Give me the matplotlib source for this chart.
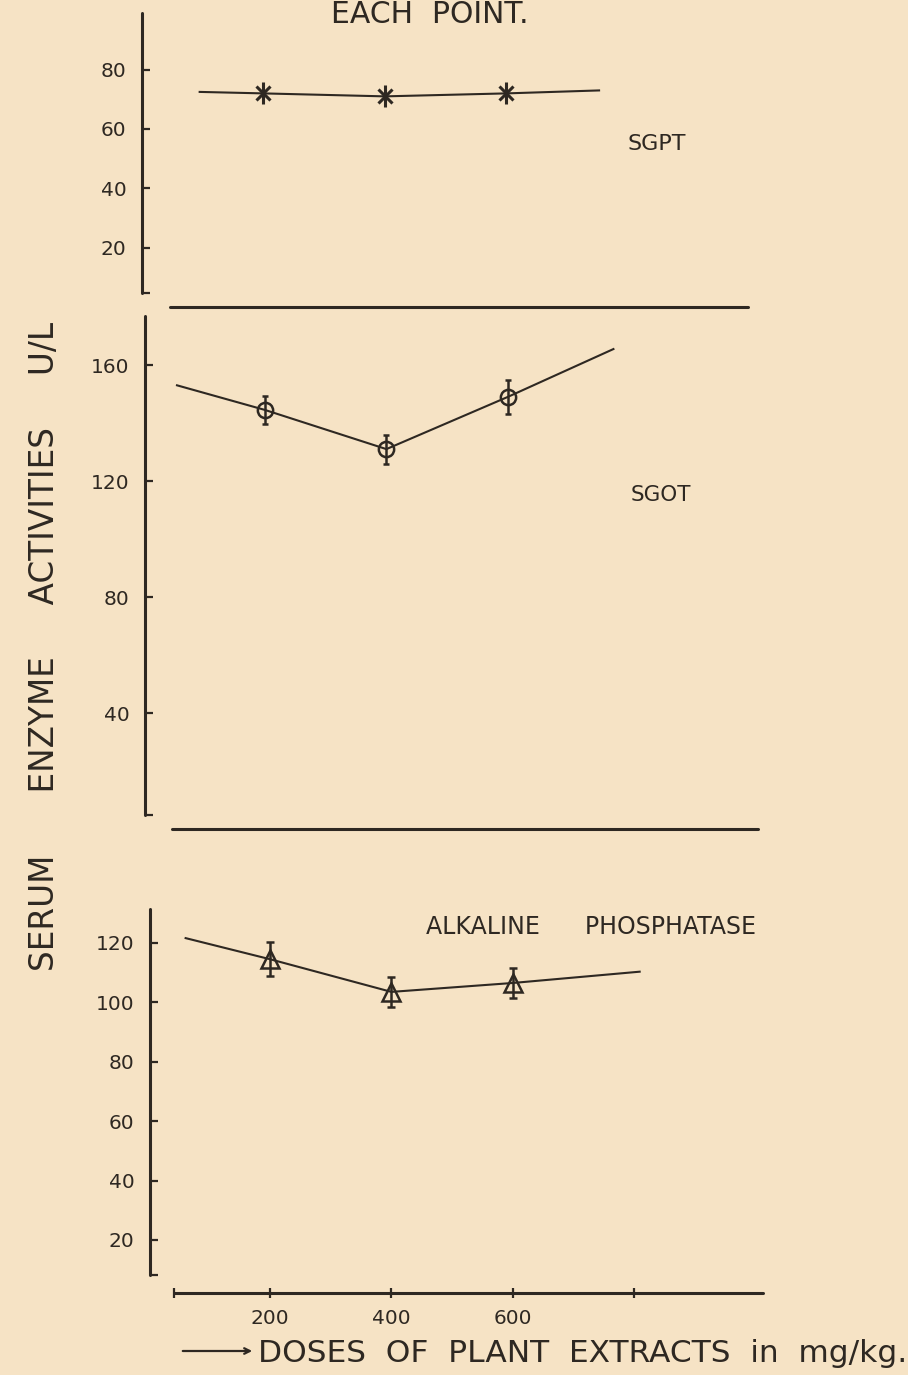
import matplotlib.pyplot as plt

# colours of the scanned sheet
BG = '#f6e3c5'
INK = '#2e2822'

W, H = 908, 1375       # figure size in pixels
XS = 0.607             # pixels per mg/kg on the dose axis
RIGHT = 800            # right edge of every panel, pixels

# doses of the plant extract (mg/kg)
doses = [200, 400, 600]

# SGPT (U/L)
sgpt_mean = [72, 71, 72]
sgpt_err = [3.7, 3.7, 3.7]
sgpt_line_x = [95, 200, 400, 600, 753]
sgpt_line_y = [72.5, 72, 71, 72, 73]

# SGOT (U/L)
sgot_mean = [144.5, 131, 149]
sgot_err = [4.7, 5, 6]
sgot_line_x = [55, 200, 400, 600, 774]
sgot_line_y = [153, 144.5, 131, 149, 165.5]

# alkaline phosphatase (U/L)
alp_mean = [114.5, 103.5, 106.5]
alp_err = [5.7, 5, 5]
alp_line_x = [61, 200, 400, 600, 809]
alp_line_y = [121.6, 114.5, 103.5, 106.5, 110.3]

sgpt_ticks = [20, 40, 60, 80]
sgot_ticks = [40, 80, 120, 160]
alp_ticks = [20, 40, 60, 80, 100, 120]
dose_ticks = [42, 200, 400, 600, 800]
dose_labels = ['', '200', '400', '600', '']

plt.rcParams['font.family'] = ['DejaVu Sans']

fig = plt.figure(figsize=(W / 100, H / 100), dpi=100, facecolor=BG)


def make_panel(left_px, top_px, bottom_px, x0, ylim, ybottom, xbounds, yticks):
    """one hand-drawn panel: free-standing left axis plus a detached base line"""
    ax = fig.add_axes([left_px / W, 1 - bottom_px / H,
                       (RIGHT - left_px) / W, (bottom_px - top_px) / H])
    ax.set_xlim(x0, x0 + (RIGHT - left_px) / XS)
    ax.set_ylim(*ylim)
    ax.patch.set_visible(False)
    ax.spines['top'].set_visible(False)
    ax.spines['right'].set_visible(False)
    for s in ['left', 'bottom']:
        ax.spines[s].set_color(INK)
        ax.spines[s].set_linewidth(2.2)
        ax.spines[s].set_capstyle('round')
    ax.spines['left'].set_bounds(ybottom, ylim[1])
    ax.spines['bottom'].set_bounds(*xbounds)
    # bottom of the left axis has a small hook, drawn as an unlabeled tick
    ax.set_yticks([ybottom] + yticks)
    ax.set_yticklabels([''] + [str(t) for t in yticks])
    ax.tick_params(axis='y', direction='in', length=6, width=1.6,
                   color=INK, labelcolor=INK, labelsize=14.5, pad=11)
    ax.set_xticks([])
    return ax


ax1 = make_panel(142, 13, 307, 0, (0, 99.1), 4.8, (46, 998), sgpt_ticks)
ax2 = make_panel(145, 316, 829, 2.3, (0, 176.9), 4.8, (47, 1012), sgot_ticks)
ax3 = make_panel(150, 909, 1293, 2.3, (2.15, 131.4), 8.2, (42, 1012), alp_ticks)

ax3.set_xticks(dose_ticks)
ax3.set_xticklabels(dose_labels)
ax3.tick_params(axis='x', direction='inout', length=7, width=1.6,
                color=INK, labelcolor=INK, labelsize=14.5, pad=8)

# SGPT
ax1.plot(sgpt_line_x, sgpt_line_y, color=INK, lw=1.5)
ax1.errorbar(doses, sgpt_mean, yerr=sgpt_err, fmt='x', color=INK,
             ms=10, mew=2.2, elinewidth=2.2, capsize=0)

# SGOT
ax2.plot(sgot_line_x, sgot_line_y, color=INK, lw=1.5)
ax2.errorbar(doses, sgot_mean, yerr=sgot_err, fmt='o', color=INK,
             mfc='none', ms=11, mew=1.8, elinewidth=1.8, capsize=2.5, capthick=1.6)

# alkaline phosphatase
ax3.plot(alp_line_x, alp_line_y, color=INK, lw=1.5)
ax3.errorbar(doses, alp_mean, yerr=alp_err, fmt='^', color=INK,
             mfc='none', ms=13, mew=1.8, elinewidth=1.8, capsize=3, capthick=1.6)


def put(x_px, y_px, s, **kw):
    fig.text(x_px / W, 1 - y_px / H, s, color=INK, **kw)


put(430, 23, 'EACH  POINT.', fontsize=21.5, ha='center', va='baseline')
put(657, 144, 'SGPT', fontsize=16, ha='center', va='center')
put(661, 495, 'SGOT', fontsize=15.5, ha='center', va='center')
put(426, 927, 'ALKALINE      PHOSPHATASE', fontsize=17, ha='left', va='center')
put(45, 646, 'SERUM      ENZYME     ACTIVITIES     U/L', fontsize=23.5,
    rotation=90, ha='center', va='center')
put(258, 1362, 'DOSES  OF  PLANT  EXTRACTS  in  mg/kg.', fontsize=22.5,
    ha='left', va='baseline')

# arrow in front of the dose label
ax3.annotate('', xy=(255, H - 1351), xytext=(180, H - 1351),
             xycoords='figure pixels', textcoords='figure pixels',
             arrowprops=dict(arrowstyle='->', color=INK, lw=1.6))

fig.savefig('out.png', dpi=100, facecolor=BG)
